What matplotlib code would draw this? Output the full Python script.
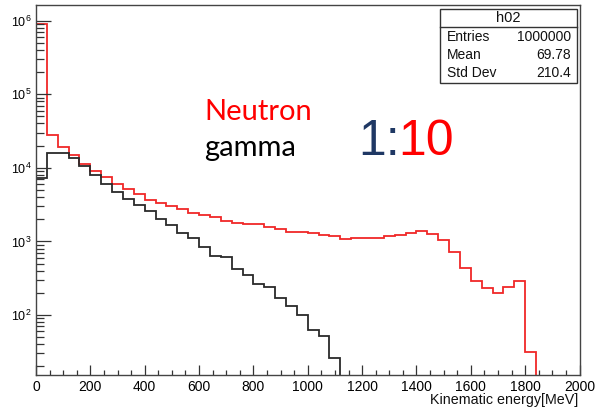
import numpy as np
import matplotlib
matplotlib.use("Agg")
import matplotlib.pyplot as plt
from matplotlib.patches import Rectangle
from matplotlib.lines import Line2D
from matplotlib.ticker import MultipleLocator, LogLocator, FuncFormatter, NullFormatter

# Histogram binning: 40 MeV bins from 0 to 2000 MeV
bin_width = 40
x_range = (0, 2000)

# Neutron kinematic-energy counts per bin (0 - 1840 MeV, empty afterwards)
neutron_counts = [
    9.0e5, 2.79e4, 1.94e4, 1.50e4, 1.14e4, 9.1e3, 7.4e3, 6.1e3, 5.1e3, 4.45e3,
    3.65e3, 3.35e3, 3.05e3, 2.78e3, 2.42e3, 2.30e3, 2.13e3, 1.88e3, 1.79e3, 1.70e3,
    1.70e3, 1.55e3, 1.46e3, 1.35e3, 1.35e3, 1.31e3, 1.22e3, 1.18e3, 1.08e3, 1.12e3,
    1.12e3, 1.12e3, 1.18e3, 1.23e3, 1.32e3, 1.38e3, 1.25e3, 1.05e3, 7.1e2, 4.3e2,
    2.9e2, 2.3e2, 1.97e2, 2.43e2, 2.93e2, 31,
]

# Gamma kinematic-energy counts per bin (0 - 1120 MeV, empty afterwards)
gamma_counts = [
    7.2e3, 1.60e4, 1.60e4, 1.37e4, 1.07e4, 8.1e3, 6.0e3, 4.7e3, 3.8e3, 3.1e3,
    2.62e3, 2.03e3, 1.67e3, 1.32e3, 1.10e3, 8.3e2, 6.3e2, 6.1e2, 4.2e2, 3.5e2,
    2.64e2, 2.38e2, 1.69e2, 1.33e2, 100, 62, 52, 26,
]

# Statistics box contents
stats_title = "h02"
stats_names = ["Entries", "Mean", "Std Dev"]
stats_values = ["1000000", "69.78", "210.4"]

x_ticks = [0, 200, 400, 600, 800, 1000, 1200, 1400, 1600, 1800, 2000]
x_label = "Kinematic energy[MeV]"

W, H = 595, 409
plt.rcParams["font.family"] = ["Liberation Sans", "DejaVu Sans"]
plt.rcParams["mathtext.fontset"] = "custom"
plt.rcParams["mathtext.rm"] = "Liberation Sans"
plt.rcParams["mathtext.it"] = "Liberation Sans"


def fx(px):
    return px / W


def fy(py):
    return 1 - py / H


fig = plt.figure(figsize=(W / 100, H / 100), dpi=100)
ax = fig.add_axes([fx(36), fy(375), (579.5 - 36) / W, (375 - 5) / H])

edges_n = np.arange(len(neutron_counts) + 1) * bin_width
edges_g = np.arange(len(gamma_counts) + 1) * bin_width

ax.stairs(neutron_counts, edges_n, baseline=1e-3, color="#f02828", lw=1.3)
ax.stairs(gamma_counts, edges_g, baseline=1e-3, color="#2a2a2a", lw=1.3)

ax.set_yscale("log")
ax.set_xlim(*x_range)
ax.set_ylim(15.3, 1.63e6)

ax.set_xticks(x_ticks)
ax.xaxis.set_minor_locator(MultipleLocator(50))
ax.yaxis.set_major_locator(LogLocator(base=10))
ax.yaxis.set_minor_locator(LogLocator(base=10, subs=np.arange(2, 10)))
ax.yaxis.set_minor_formatter(NullFormatter())
ax.yaxis.set_major_formatter(
    FuncFormatter(lambda v, p: r"$\mathregular{10^{%d}}$" % int(round(np.log10(v))))
)

ax.tick_params(axis="both", which="both", direction="in", top=False, right=False,
               color="#333333", width=0.9)
ax.tick_params(axis="x", which="major", length=7.5, labelsize=10, pad=3.5)
ax.tick_params(axis="x", which="minor", length=3.8)
ax.tick_params(axis="y", which="major", length=11, labelsize=9, pad=3)
ax.tick_params(axis="y", which="minor", length=6)

for s in ax.spines.values():
    s.set_color("#444444")
    s.set_linewidth(1.0)

fig.text(fx(578), fy(400), x_label, ha="right", va="center", fontsize=10.3, color="#111111")

# Statistics box
box_l, box_r, box_t, box_b, box_sep = 440, 577, 9, 83, 27
fig.add_artist(Rectangle((fx(box_l), fy(box_b)), (box_r - box_l) / W, (box_b - box_t) / H,
                         transform=fig.transFigure, facecolor="white",
                         edgecolor="#333333", lw=1.0))
fig.add_artist(Line2D([fx(box_l), fx(box_r)], [fy(box_sep), fy(box_sep)],
                      transform=fig.transFigure, color="#333333", lw=1.0))
fig.text(fx((box_l + box_r) / 2), fy(18), stats_title, ha="center", va="center",
         fontsize=10.5, color="#111111")
for i, (name, val) in enumerate(zip(stats_names, stats_values)):
    yy = fy(37 + i * 18)
    fig.text(fx(447), yy, name, ha="left", va="center", fontsize=10, color="#111111")
    fig.text(fx(571), yy, val, ha="right", va="center", fontsize=10, color="#111111")

# Annotations
fig.text(fx(204), fy(120), "Neutron", color="#ff0000", fontsize=21,
         family=["Lato", "DejaVu Sans"], va="baseline", ha="left")
fig.text(fx(204), fy(156), "gamma", color="black", fontsize=21,
         family=["Lato", "DejaVu Sans"], va="baseline", ha="left")
fig.text(fx(358), fy(155), "1:", color="#1f3864", fontsize=36,
         family=["Liberation Sans", "DejaVu Sans"], va="baseline", ha="left")
fig.text(fx(398), fy(155), "10", color="#ff0000", fontsize=36,
         family=["Liberation Sans", "DejaVu Sans"], va="baseline", ha="left")

fig.savefig("out.png", dpi=100)
